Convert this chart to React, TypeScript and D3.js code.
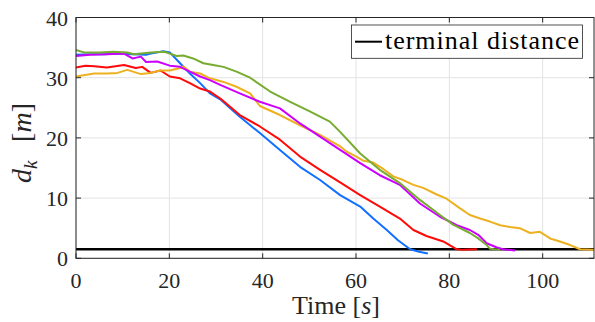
import React, { useMemo } from "react";
import * as d3 from "d3";

const W = 595;
const H = 322;

const blueT = [0, 3, 6, 9, 12, 15, 16, 18.7, 20.1, 22.3, 24.4, 26.6, 28.7, 30.9, 35.1, 39.4, 43.7, 48, 52.3, 56.6, 60.9, 63.7, 66.6, 69, 71.6, 73.5, 75.4];
const blueD = [33.8, 33.9, 33.9, 34.0, 33.9, 33.8, 34.0, 34.4, 34.2, 32.4, 30.7, 29.1, 27.4, 26.4, 23.5, 20.8, 18.0, 15.2, 13.0, 10.5, 8.6, 6.6, 4.7, 3.0, 1.5, 1.1, 0.8];

const redT = [0, 2, 3.9, 6.6, 10.3, 12.8, 14.2, 16, 18.1, 20.1, 22.3, 24.4, 26.6, 28.7, 31, 35.1, 39.4, 43.7, 48, 52.3, 56.6, 60.9, 65.1, 69.4, 72.3, 75.1, 78.7, 81.6, 83, 85.9];
const redD = [31.7, 32.0, 31.9, 31.7, 32.1, 31.6, 31.8, 30.8, 31.2, 30.2, 29.9, 29.1, 28.2, 27.7, 26.5, 23.8, 21.9, 19.7, 16.9, 14.7, 12.6, 10.5, 8.6, 6.6, 4.7, 3.7, 2.8, 1.5, 1.4, 1.5];

const magentaT = [0, 3, 6.6, 10.3, 12.1, 13.9, 15, 17.4, 20.1, 22.3, 24.4, 26.6, 28.7, 30.9, 35.1, 39.4, 43.7, 48, 52.3, 56.6, 60.9, 65.1, 69.4, 73.7, 78, 81.6, 84.4, 86.2, 88, 90.2, 91.5, 94.1];
const magentaD = [33.6, 33.8, 33.9, 34.0, 33.2, 33.5, 32.6, 32.7, 32.0, 31.8, 31.0, 30.2, 29.6, 28.8, 27.4, 26.0, 24.9, 22.4, 20.2, 18.0, 15.8, 13.8, 12.2, 9.1, 6.9, 5.5, 4.7, 3.9, 2.5, 1.8, 1.5, 1.3];

const greenT = [0, 1.7, 5, 8, 11, 12.4, 16, 18.9, 20.1, 21.6, 23, 25.1, 27.3, 29.4, 31.6, 34.4, 37.3, 41.6, 45.9, 50.1, 54.4, 56.6, 60.9, 65.1, 69.4, 73.7, 78, 80.8, 82.3, 84.4, 86.2, 88, 88.7, 90.9];
const greenD = [34.6, 34.2, 34.2, 34.3, 34.2, 33.9, 34.2, 34.3, 34.0, 33.6, 33.7, 33.2, 32.4, 32.1, 31.8, 31.0, 30.0, 27.7, 26.0, 24.4, 22.7, 21.0, 17.4, 14.7, 12.5, 9.7, 7.2, 5.6, 5.0, 4.2, 3.3, 2.2, 1.6, 1.4];

const orangeT = [0, 3.9, 6.6, 8.9, 11, 13.9, 16, 18.1, 20.1, 22.3, 23, 24.4, 26.6, 28.7, 31.6, 34.4, 37.3, 39.4, 43.7, 48, 52.3, 56.6, 58, 60.1, 61.6, 63.7, 65.9, 68, 70.1, 72.3, 74.4, 77.3, 79.4, 82.3, 84.4, 86.6, 88.7, 90.9, 93, 95.1, 97.3, 99.4, 101.6, 103.7, 105.9, 108, 111];
const orangeD = [30.2, 30.7, 30.7, 30.8, 31.3, 30.6, 30.8, 31.2, 31.2, 31.6, 31.9, 31.0, 30.7, 29.9, 29.3, 28.5, 27.4, 25.3, 23.8, 22.1, 20.5, 18.6, 17.7, 16.9, 16.2, 15.9, 14.8, 13.6, 13.0, 12.2, 11.7, 10.6, 9.9, 8.3, 7.2, 6.6, 6.1, 5.5, 5.2, 5.0, 4.2, 4.4, 3.3, 2.8, 2.2, 1.5, 1.4];

const terminalDistance = 1.5;
const xTicks = [0, 20, 40, 60, 80, 100];
const yTicks = [0, 10, 20, 30, 40];

const series = [
  { name: "blue", t: blueT, d: blueD, color: "#1170ff" },
  { name: "red", t: redT, d: redD, color: "#ff0a0a" },
  { name: "orange", t: orangeT, d: orangeD, color: "#edb120" },
  { name: "magenta", t: magentaT, d: magentaD, color: "#cc00ff" },
  { name: "green", t: greenT, d: greenD, color: "#77ac30" },
];

// serif first; Roboto as the fallback if no serif face is installed
const fontStack = "'Liberation Serif', 'DejaVu Serif', Roboto, sans-serif";

export default function App() {
  const m = { left: 76, top: 17.5, right: 594, bottom: 258.3 };

  const x = useMemo(() => d3.scaleLinear().domain([0, 111]).range([m.left, m.right]), []);
  const y = useMemo(() => d3.scaleLinear().domain([0, 40]).range([m.bottom, m.top]), []);

  const line = d3
    .line<[number, number]>()
    .x((p) => x(p[0]))
    .y((p) => y(p[1]));

  const axisColor = "#262626";
  const gridColor = "#e3e3e3";

  return (
    <svg
      width={W}
      height={H}
      style={{ position: "absolute", left: 0, top: 0, background: "#fff", fontFamily: fontStack }}
    >
      {/* grid */}
      {xTicks.map((t) => (
        <line key={`gx${t}`} x1={x(t)} x2={x(t)} y1={m.top} y2={m.bottom} stroke={gridColor} strokeWidth={1} />
      ))}
      {yTicks.map((t) => (
        <line key={`gy${t}`} x1={m.left} x2={m.right} y1={y(t)} y2={y(t)} stroke={gridColor} strokeWidth={1} />
      ))}

      {/* terminal distance */}
      <line
        x1={m.left}
        x2={m.right}
        y1={y(terminalDistance)}
        y2={y(terminalDistance)}
        stroke="#000"
        strokeWidth={2.5}
      />

      {series.map((s) => (
        <path
          key={s.name}
          d={line(d3.zip(s.t, s.d) as [number, number][]) || ""}
          fill="none"
          stroke={s.color}
          strokeWidth={2}
          strokeLinejoin="round"
        />
      ))}

      {/* box */}
      <rect
        x={m.left}
        y={m.top}
        width={m.right - m.left}
        height={m.bottom - m.top}
        fill="none"
        stroke={axisColor}
        strokeWidth={1}
      />

      {/* ticks */}
      {xTicks.map((t) => (
        <g key={`tx${t}`}>
          <line x1={x(t)} x2={x(t)} y1={m.bottom} y2={m.bottom - 5} stroke={axisColor} />
          <line x1={x(t)} x2={x(t)} y1={m.top} y2={m.top + 5} stroke={axisColor} />
          <text x={x(t)} y={288} textAnchor="middle" fontSize={22} fill={axisColor}>
            {t}
          </text>
        </g>
      ))}
      {yTicks.map((t) => (
        <g key={`ty${t}`}>
          <line x1={m.left} x2={m.left + 5} y1={y(t)} y2={y(t)} stroke={axisColor} />
          <line x1={m.right} x2={m.right - 5} y1={y(t)} y2={y(t)} stroke={axisColor} />
          <text x={m.left - 8} y={y(t) + 8} textAnchor="end" fontSize={22} fill={axisColor}>
            {t}
          </text>
        </g>
      ))}

      {/* axis labels */}
      <text x={(m.left + m.right) / 2 + 1} y={314} textAnchor="middle" fontSize={26} fill={axisColor}>
        Time [<tspan fontStyle="italic">s</tspan>]
      </text>
      {/* y label in two pieces, like the wide LaTeX spacing in d_k [m] */}
      <g transform="translate(31,0) rotate(-90)">
        <text x={-183} y={0} textAnchor="start" fontSize={28} fill={axisColor}>
          <tspan fontStyle="italic">d</tspan>
          <tspan fontStyle="italic" fontSize={19} dy={6}>k</tspan>
        </text>
        <text x={-103} y={0} textAnchor="end" fontSize={28} fill={axisColor}>
          [<tspan fontStyle="italic">m</tspan>]
        </text>
      </g>

      {/* legend */}
      <rect x={351.5} y={25} width={231} height={33.3} fill="#fff" stroke="#262626" strokeWidth={0.8} />
      <line x1={355} x2={382} y1={41.7} y2={41.7} stroke="#000" strokeWidth={2} />
      <text x={385} y={49} fontSize={26} fill="#000" textLength={194}>
        terminal distance
      </text>
    </svg>
  );
}
